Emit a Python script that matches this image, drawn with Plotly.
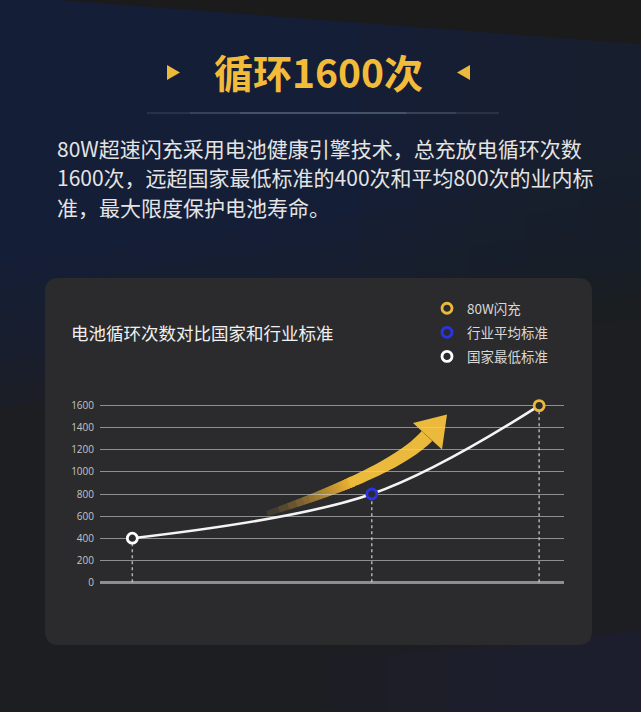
import plotly.graph_objects as go

# Data
series_names = ['国家最低标准', '行业平均标准', '80W闪充']
cycle_counts = [400, 800, 1600]
stage_x = [0.39, 3.28, 5.30]
y_ticks = [0, 200, 400, 600, 800, 1000, 1200, 1400, 1600]

headline = '循环1600次'
desc_lines = [
    '80W超速闪充采用电池健康引擎技术，总充放电循环次数',
    '1600次，远超国家最低标准的400次和平均800次的业内标',
    '准，最大限度保护电池寿命。',
]
card_title = '电池循环次数对比国家和行业标准'

point_colors = ['#ffffff', '#2b33e6', '#ebb93c']
GOLD = '#ebb93c'
FONT = 'Noto Sans CJK SC'

# page geometry (pixels)
W, H = 641, 712
L, R, T, B = 100, 77, 399, 123
PW, PH = W - L - R, H - T - B


def P(x, y):
    # pixel -> paper coords
    return (x - L) / PW, (H - B - y) / PH


def path(points, close=True):
    s = ''
    for i, (x, y) in enumerate(points):
        px, py = P(x, y)
        s += ('M' if i == 0 else 'L') + f'{px:.5f},{py:.5f} '
    return s + ('Z' if close else '')


def rounded_rect(x0, y0, x1, y1, r):
    def p(x, y):
        a, b = P(x, y)
        return f'{a:.5f},{b:.5f}'
    return (f'M{p(x0 + r, y0)} L{p(x1 - r, y0)} Q{p(x1, y0)} {p(x1, y0 + r)} '
            f'L{p(x1, y1 - r)} Q{p(x1, y1)} {p(x1 - r, y1)} L{p(x0 + r, y1)} '
            f'Q{p(x0, y1)} {p(x0, y1 - r)} L{p(x0, y0 + r)} Q{p(x0, y0)} {p(x0 + r, y0)} Z')


def bg(points, color, op=1.0, layer='below'):
    return dict(type='path', path=path(points), xref='paper', yref='paper',
                fillcolor=color, opacity=op, line=dict(width=0), layer=layer)


shapes = []

# background: navy glow at top, fading down
for i in range(8):
    y_end = 170 + i * 24
    shapes.append(bg([(0, 0), (W, 0), (W, y_end - 20), (0, y_end + 70)], '#152440', 0.15))
# a little darker towards the right
for i in range(5):
    x0 = 360 + i * 55
    shapes.append(bg([(x0, 0), (W, 0), (W, H), (x0, H)], '#1c1c1e', 0.09))
# dark wedge top right
shapes.append(bg([(60, 0), (W, 0), (W, 44)], '#1b1b1c'))
# navy tint bottom right
for i in range(4):
    x0 = 330 + i * 60
    shapes.append(bg([(x0, 655), (W, 630), (W, H), (x0, H)], '#1f2143', 0.12))

# title decorations
shapes.append(bg([(167, 65), (167, 80), (180, 72.5)], GOLD))
shapes.append(bg([(470, 65), (470, 80), (457, 72.5)], GOLD))
for a, b in [(147, 499), (190, 456), (240, 406)]:
    x0, y0 = P(a, 113)
    x1, _ = P(b, 113)
    shapes.append(dict(type='line', x0=x0, x1=x1, y0=y0, y1=y0, xref='paper', yref='paper',
                       line=dict(color='rgba(150,165,190,0.15)', width=2), layer='below'))

# card
shapes.append(dict(type='path', path=rounded_rect(45, 278, 592, 645, 14),
                   xref='paper', yref='paper', fillcolor='#2b2b2d',
                   line=dict(width=0), layer='below'))

# golden rising arrow, body fades towards the tail
p0, p1, p2, p3 = (250, 519), (310, 500), (395, 470), (427, 436)


def bez(t):
    u = 1 - t
    x = u**3 * p0[0] + 3 * u * u * t * p1[0] + 3 * u * t * t * p2[0] + t**3 * p3[0]
    y = u**3 * p0[1] + 3 * u * u * t * p1[1] + 3 * u * t * t * p2[1] + t**3 * p3[1]
    dx = 3 * u * u * (p1[0] - p0[0]) + 6 * u * t * (p2[0] - p1[0]) + 3 * t * t * (p3[0] - p2[0])
    dy = 3 * u * u * (p1[1] - p0[1]) + 6 * u * t * (p2[1] - p1[1]) + 3 * t * t * (p3[1] - p2[1])
    n = (dx * dx + dy * dy) ** 0.5
    return x, y, -dy / n, dx / n


def body(ta, tb, steps=24):
    top, bot = [], []
    for k in range(steps + 1):
        t = ta + (tb - ta) * k / steps
        x, y, nx, ny = bez(t)
        w = 1 + 6.2 * t ** 0.6
        top.append((x + nx * w, y + ny * w))
        bot.append((x - nx * w, y - ny * w))
    return top + bot[::-1]


alpha, M, t_solid = 0.12, 26, 0.5
for k in range(1, M + 1):
    c = 1 - (1 - alpha) ** k
    t_start = t_solid * c ** 0.8
    shapes.append(bg(body(t_start, t_solid + 0.02), GOLD, alpha, 'between'))
shapes.append(bg(body(t_solid, 1.0), GOLD, 1.0, 'between'))
shapes.append(bg([(413, 423), (447, 414.5), (442, 449.5)], GOLD, 1.0, 'between'))

fig = go.Figure()

# dotted drop lines
for x, y in zip(stage_x, cycle_counts):
    fig.add_trace(go.Scatter(x=[x, x], y=[0, y], mode='lines', showlegend=False,
                             line=dict(color='rgba(210,210,210,0.8)', width=1.5, dash='dot'),
                             hoverinfo='skip'))

# curve
fig.add_trace(go.Scatter(x=stage_x, y=cycle_counts, mode='lines', showlegend=False,
                         line=dict(color='#f4f4f4', width=2.6, shape='spline', smoothing=1.0),
                         hoverinfo='skip'))

# points (one trace each for the legend, highest first)
for name, x, y, c in list(zip(series_names, stage_x, cycle_counts, point_colors))[::-1]:
    fig.add_trace(go.Scatter(x=[x], y=[y], mode='markers', name=name, legendgroup=name,
                             marker=dict(size=10, color='#2b2b2d', line=dict(color=c, width=2.8)),
                             cliponaxis=False))

annotations = []
hx, hy = P(318, 71)
annotations.append(dict(x=hx, y=hy, xref='paper', yref='paper', text=f'<b>{headline}</b>',
                        showarrow=False, xanchor='center', yanchor='middle',
                        font=dict(family=FONT, size=39, color='#f2bc3a')))
for i, line in enumerate(desc_lines):
    lx, ly = P(55, 148 + i * 29.5)
    annotations.append(dict(x=lx, y=ly, xref='paper', yref='paper', text=line,
                            showarrow=False, xanchor='left', yanchor='middle',
                            font=dict(family=FONT, size=21, color='#e4e4e4')))
cx, cy = P(69, 332)
annotations.append(dict(x=cx, y=cy, xref='paper', yref='paper', text=card_title,
                        showarrow=False, xanchor='left', yanchor='middle',
                        font=dict(family=FONT, size=17.5, color='#f0f0f0')))

lgx, lgy = P(427, 293)

fig.update_layout(
    width=W, height=H,
    margin=dict(l=L, r=R, t=T, b=B),
    paper_bgcolor='#1d1e22',
    plot_bgcolor='rgba(0,0,0,0)',
    shapes=shapes,
    annotations=annotations,
    showlegend=True,
    legend=dict(x=lgx, y=lgy, xanchor='left', yanchor='top', traceorder='grouped',
                bgcolor='rgba(0,0,0,0)', font=dict(family=FONT, size=13.5, color='#d8d8d8'),
                tracegroupgap=3.5, itemwidth=30),
    xaxis=dict(range=[0, 5.6], visible=False, fixedrange=True),
    yaxis=dict(range=[-60, 1660], tickvals=y_ticks, showgrid=True,
               gridcolor='rgba(210,210,210,0.6)', gridwidth=1,
               zeroline=True, zerolinecolor='#8e8e8e', zerolinewidth=2.5,
               showline=False, ticks='', ticklabelstandoff=5,
               tickfont=dict(family='Open Sans', size=10, color='#c4c4c4'), fixedrange=True),
)

fig.write_html('out.html', config={'displayModeBar': False},
               post_script="document.body.style.margin='0';")
